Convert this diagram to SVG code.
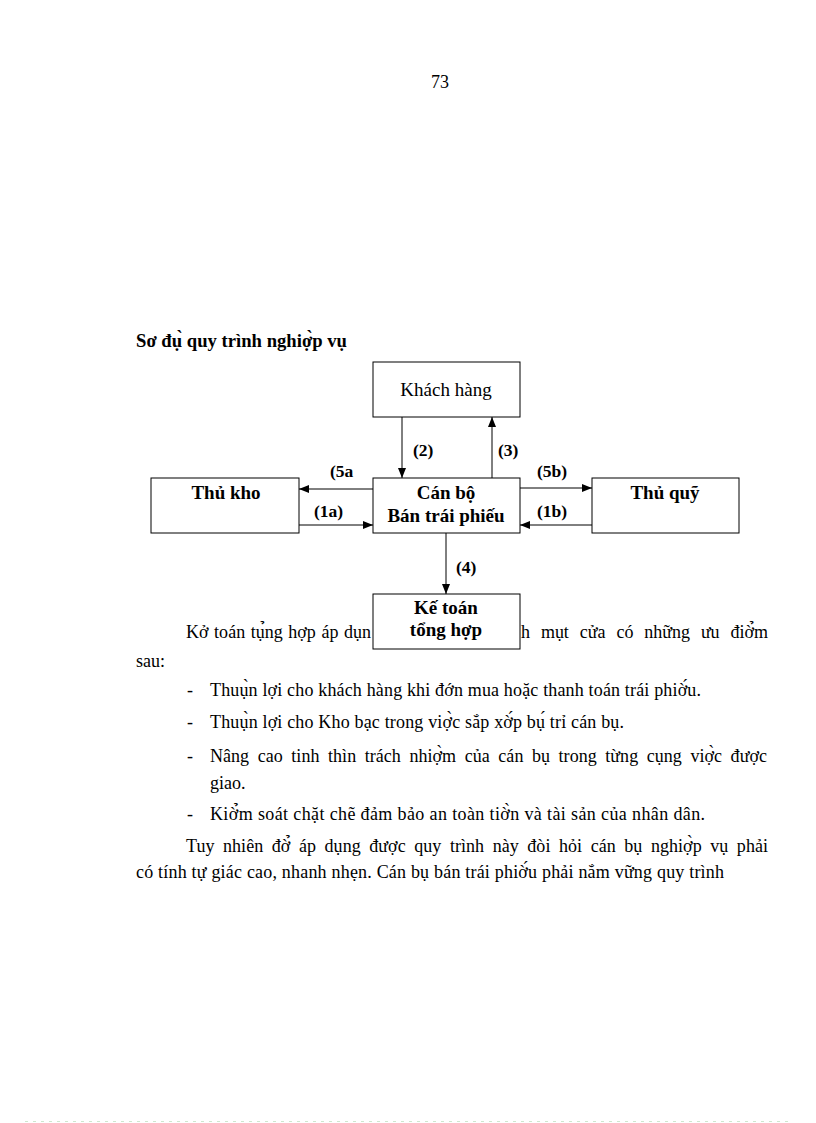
<svg xmlns="http://www.w3.org/2000/svg" width="816" height="1123" viewBox="0 0 816 1123">
<style>
text{font-family:"Liberation Serif","Times New Roman",serif;fill:#000}
.body{font-size:18px}
.b{font-weight:bold}
.lab{font-size:17.5px;font-weight:bold}
.bx{font-size:19px}
.box{fill:#fff;stroke:#000;stroke-width:1}
.con{stroke:#000;stroke-width:1;fill:none}
</style>
<defs>
<marker id="ah" viewBox="0 0 10 8" refX="10" refY="4" markerWidth="10" markerHeight="8" markerUnits="userSpaceOnUse" orient="auto">
<path d="M0,0 L10,4 L0,8 z" fill="#000"/>
</marker>
</defs>
<rect width="816" height="1123" fill="#fff"/>
<text class="body" x="440" y="88" text-anchor="middle">73</text>
<text class="b" x="136" y="347" font-size="18" textLength="211" lengthAdjust="spacingAndGlyphs">Sơ đụ̀ quy trình nghiợ̀p vụ</text>

<g id="body-text">
<text class="body" x="186" y="638" word-spacing="1" textLength="185" lengthAdjust="spacing">Kở toán tụ̉ng hợp áp dụn</text>
<text class="body" x="521" y="638" word-spacing="6.5" textLength="247" lengthAdjust="spacing">h mụt cửa có những ưu điờ̉m</text>
<text class="body" x="136" y="667">sau:</text>
<text class="body" x="187" y="696">-</text>
<text class="body" x="210" y="696" textLength="491" lengthAdjust="spacing">Thuụ̀n lợi  cho khách hàng khi đớn mua hoặc thanh toán trái phiờ́u.</text>
<text class="body" x="187" y="728">-</text>
<text class="body" x="210" y="728" textLength="414" lengthAdjust="spacing">Thuụ̀n lợi  cho Kho bạc trong viợ̀c sắp xờ́p bụ́ trỉ cán bụ.</text>
<text class="body" x="187" y="762">-</text>
<text class="body" x="210" y="762" word-spacing="4" textLength="557" lengthAdjust="spacing">Nâng cao tinh thìn trách nhiợ̀m của cán bụ trong từng cụng viợ̀c được</text>
<text class="body" x="210" y="789">giao.</text>
<text class="body" x="187" y="820">-</text>
<text class="body" x="210" y="820" textLength="495" lengthAdjust="spacing">Kiờ̉m soát chặt chẽ đảm bảo an toàn tiờ̀n và tài sản của nhân dân.</text>
<text class="body" x="186" y="852" word-spacing="4" textLength="582" lengthAdjust="spacing">Tuy nhiên đờ̉ áp dụng được quy trình này đòi hỏi cán bụ nghiợ̀p vụ phải</text>
<text class="body" x="136" y="878" textLength="588" lengthAdjust="spacing">có tính tự giác  cao, nhanh nhẹn. Cán bụ bán trái phiờ́u phải nắm vững quy trình</text>
</g>

<g id="connectors">
<line class="con" x1="402" y1="417" x2="402" y2="478" marker-end="url(#ah)"/>
<line class="con" x1="492" y1="478" x2="492" y2="417" marker-end="url(#ah)"/>
<line class="con" x1="373" y1="489" x2="299" y2="489" marker-end="url(#ah)"/>
<line class="con" x1="299" y1="525" x2="373" y2="525" marker-end="url(#ah)"/>
<line class="con" x1="520" y1="488" x2="592" y2="488" marker-end="url(#ah)"/>
<line class="con" x1="592" y1="525" x2="520" y2="525" marker-end="url(#ah)"/>
<line class="con" x1="446" y1="533" x2="446" y2="594" marker-end="url(#ah)"/>
<text class="lab" x="413" y="456">(2)</text>
<text class="lab" x="498" y="456">(3)</text>
<text class="lab" x="330" y="477">(5a</text>
<text class="lab" x="314" y="517">(1a)</text>
<text class="lab" x="537" y="477">(5b)</text>
<text class="lab" x="537" y="517">(1b)</text>
<text class="lab" x="456" y="573">(4)</text>
</g>

<g id="khach-hang">
<rect class="box" x="373" y="362" width="147" height="55"/>
<text class="bx" x="446" y="396" text-anchor="middle">Khách hàng</text>
</g>
<g id="thu-kho">
<rect class="box" x="151" y="478" width="148" height="55"/>
<text class="bx b" x="226" y="499" text-anchor="middle">Thủ kho</text>
</g>
<g id="can-bo">
<rect class="box" x="373" y="478" width="147" height="55"/>
<text class="bx b" x="446" y="499" text-anchor="middle">Cán bộ</text>
<text class="bx b" x="446" y="522" text-anchor="middle">Bán trái phiếu</text>
</g>
<g id="thu-quy">
<rect class="box" x="592" y="478" width="147" height="55"/>
<text class="bx b" x="665" y="499" text-anchor="middle">Thủ quỹ</text>
</g>
<g id="ke-toan">
<rect class="box" x="373" y="594" width="147" height="55"/>
<text class="bx b" x="446" y="614" text-anchor="middle">Kế toán</text>
<text class="bx b" x="446" y="636" text-anchor="middle">tổng hợp</text>
</g>

<line x1="25" y1="1121.5" x2="792" y2="1121.5" stroke="#cfe6cf" stroke-width="1" stroke-dasharray="3,5"/>
</svg>
